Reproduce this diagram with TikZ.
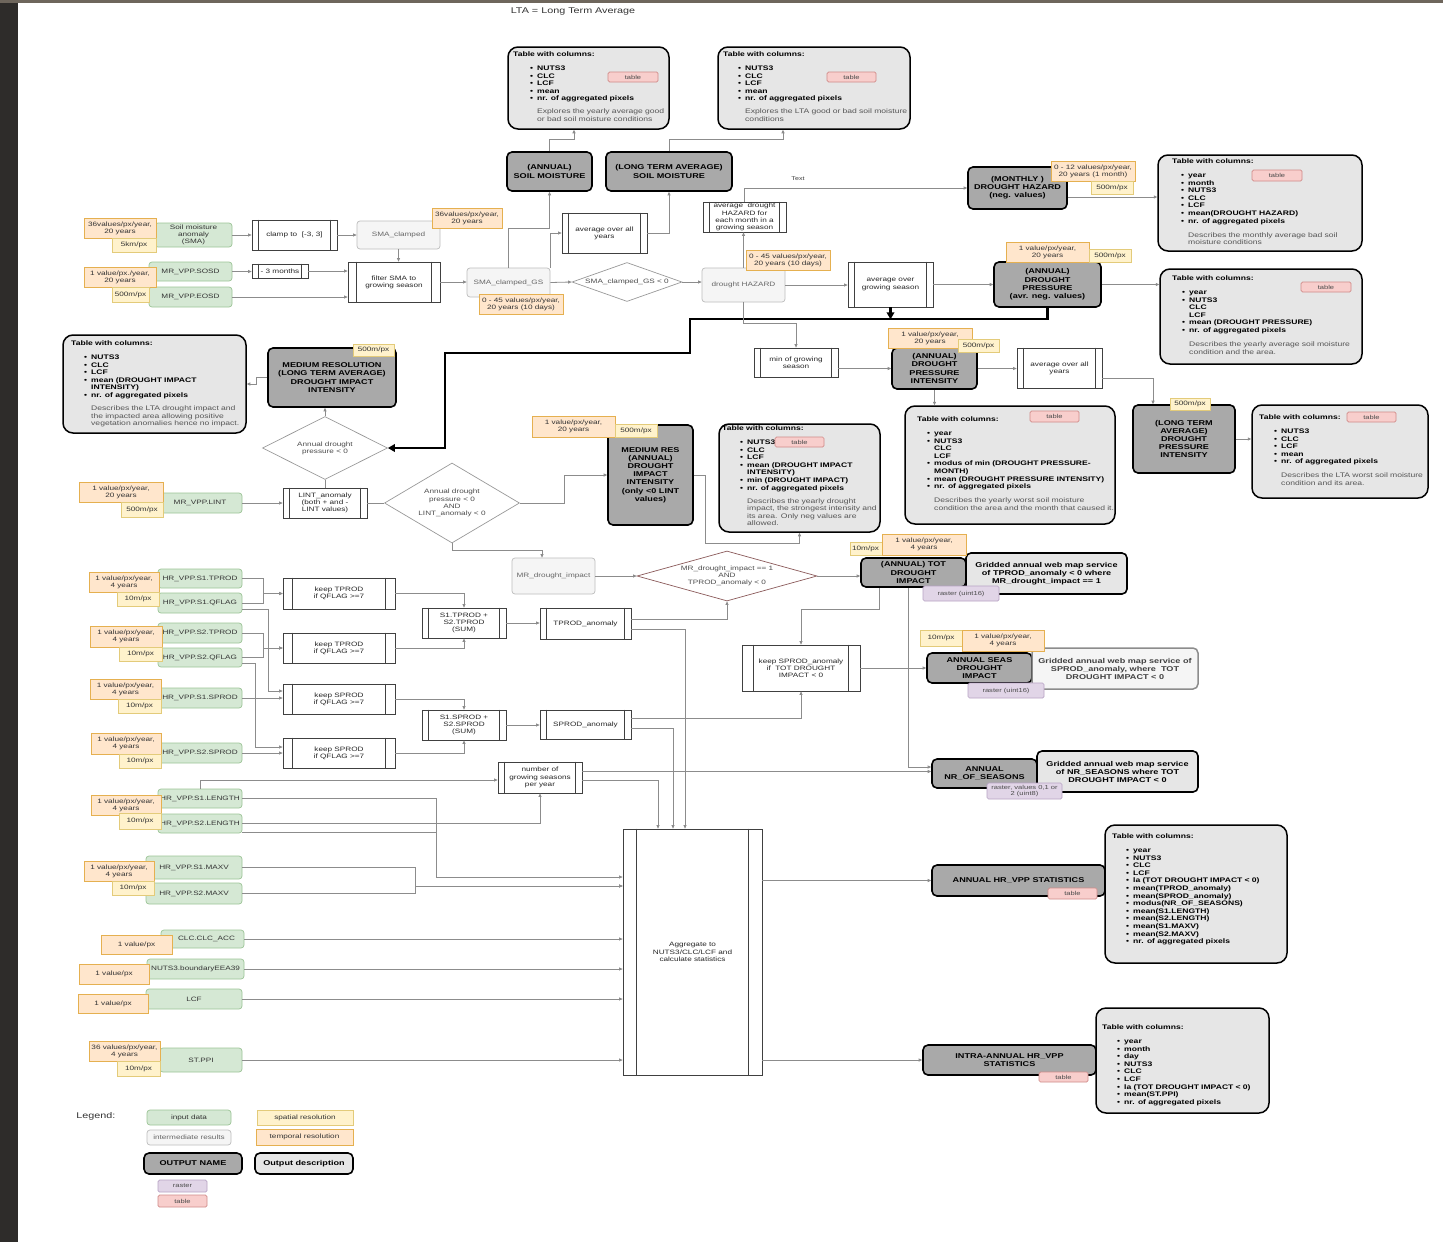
\documentclass[tikz,border=0pt]{standalone}
\usepackage{fontspec}
\setmainfont{Liberation Sans}[FakeStretch=1.3]
\usetikzlibrary{arrows.meta,shapes.geometric}
\definecolor{inF}{HTML}{D5E8D4}\definecolor{inD}{HTML}{9CC496}
\definecolor{tmF}{HTML}{FFE6CC}\definecolor{tmD}{HTML}{E5B050}
\definecolor{spF}{HTML}{FFF2CC}\definecolor{spD}{HTML}{E3CB7A}
\definecolor{raF}{HTML}{E1D5E7}\definecolor{raD}{HTML}{B7A2C4}
\definecolor{taF}{HTML}{F8CECC}\definecolor{taD}{HTML}{D08A88}
\definecolor{outF}{HTML}{A9A9A9}
\definecolor{tblF}{HTML}{E6E6E6}
\definecolor{intF}{HTML}{F5F5F5}\definecolor{intD}{HTML}{BDBDBD}
\definecolor{lnC}{HTML}{8C8C8C}
\definecolor{descg}{HTML}{555555}
\definecolor{ddD}{HTML}{8B5A5A}
\definecolor{stripA}{HTML}{2E2C2A}
\definecolor{stripB}{HTML}{6E665C}
\newlength\bind
\newcommand\bi[1]{\hspace*{\bind}\makebox[7pt][l]{\textbullet}#1}
\newcommand\bc[1]{\hspace*{\bind}\hspace*{7pt}#1}
\newcommand\nd[7]{\node[#2,minimum width={#5-#3},minimum height={#6-#4}] (#1) at ({(#3+#5)/2},{(#4+#6)/2}) {#7};}
\newcommand\pr[7][7]{\nd{#2}{proc}{#3}{#4}{#5}{#6}{#7}\draw[procin] ([xshift=#1pt]#2.north west) -- ([xshift=#1pt]#2.south west) ([xshift=-#1pt]#2.north east) -- ([xshift=-#1pt]#2.south east);}
\newcommand\tb[8]{\nd{#1}{tbl}{#2}{#3}{#4}{#5}{}\node[tbltext,text width={#4-#6+15}] (#1-t) at (#6,{#7-2.5}) {\setlength\parindent{0pt}\setlength\parskip{0pt}#8};}
\tikzset{
 basebox/.style={inner sep=0.5pt, align=center, font=\fontsize{6.3}{7.2}\selectfont},
 inputbox/.style={basebox, rounded corners=3pt, fill=inF, draw=inD, line width=0.7pt, text=black!80},
 tmpbox/.style={basebox, fill=tmF, draw=tmD, line width=0.8pt, text=black!80},
 spabox/.style={basebox, fill=spF, draw=spD, line width=0.8pt, text=black!80},
 rasbox/.style={basebox, rounded corners=1.5pt, fill=raF, draw=raD, line width=0.7pt, text=black!70, font=\fontsize{5.8}{6.6}\selectfont},
 tabbox/.style={basebox, rounded corners=1.5pt, fill=taF, draw=taD, line width=0.7pt, text=black!70, font=\fontsize{5.8}{6.6}\selectfont},
 outbox/.style={basebox, rounded corners=5pt, fill=outF, draw=black, line width=1.6pt, font=\bfseries\fontsize{7}{8.2}\selectfont},
 descbox/.style={basebox, rounded corners=5pt, fill=tblF, draw=black, line width=1.6pt, font=\bfseries\fontsize{7}{8}\selectfont},
 descboxb/.style={basebox, rounded corners=5pt, fill=intF, draw=black!45, line width=1.5pt, text=black!75, font=\bfseries\fontsize{7}{8}\selectfont},
 interbox/.style={basebox, rounded corners=3pt, fill=intF, draw=intD, line width=0.7pt, text=black!60},
 procbox/.style={basebox, draw=black!75, line width=0.7pt, fill=white, text=black!85},
 proc/.style={procbox},
 procin/.style={draw=black!75, line width=0.7pt},
 diabox/.style={basebox, diamond, draw=black!40, line width=0.7pt, inner sep=0pt, fill=white, text=black!70},
 tbl/.style={rounded corners=10pt, fill=tblF, draw=black, line width=1.5pt, inner sep=0pt},
 tbltext/.style={inner sep=0pt, anchor=north west, align=left, font=\fontsize{6.6}{7.6}\selectfont},
 con/.style={draw=lnC, line width=0.8pt, -{Triangle[length=3.5pt,width=3pt]}},
 plainline/.style={draw=lnC, line width=0.8pt},
 thk/.style={draw=black, line width=2.2pt, -{Triangle[length=7pt,width=7.5pt]}},
}
\begin{document}
\begin{tikzpicture}[x=1pt,y=-1pt]
\fill[white] (0,0) rectangle (1443,1242);
\useasboundingbox (0,0) rectangle (1443,1242);
\fill[stripA] (0,0) rectangle (18,1242);
\fill[stripB] (0,0) rectangle (1443,3);
\node[font=\fontsize{8.3}{9}\selectfont, text=black!80] (title) at (573,12) {LTA = Long Term Average};
\node[font=\fontsize{5.5}{6}\selectfont, text=black!75] (txt) at (798,179) {Text};

% ---------- tables ----------
\tb{tA}{508}{47}{669}{129}{513}{54}{\setlength\bind{17pt}\bfseries Table with columns:\\[6.4pt]
\bi{NUTS3}\\ \bi{CLC}\\ \bi{LCF}\\ \bi{mean}\\ \bi{nr. of aggregated pixels}\\[5.4pt]
\mdseries\color{descg}\bc{Explores the yearly average good}\\ \bc{or bad soil moisture conditions}}
\tb{tB}{718}{47}{910}{129}{723}{54}{\setlength\bind{15pt}\bfseries Table with columns:\\[6.4pt]
\bi{NUTS3}\\ \bi{CLC}\\ \bi{LCF}\\ \bi{mean}\\ \bi{nr. of aggregated pixels}\\[5.4pt]
\mdseries\color{descg}\bc{Explores the LTA good or bad soil moisture}\\ \bc{conditions}}
\tb{tMon}{1158}{155}{1362}{251}{1172}{161}{\setlength\bind{9pt}\bfseries Table with columns:\\[6.4pt]
\bi{year}\\ \bi{month}\\ \bi{NUTS3}\\ \bi{CLC}\\ \bi{LCF}\\ \bi{mean(DROUGHT HAZARD)}\\ \bi{nr. of aggregated pixels}\\[6.4pt]
\mdseries\color{descg}\bc{Describes the monthly average bad soil}\\ \bc{moisture conditions}}
\tb{tPres}{1160}{269}{1362}{364}{1172}{278}{\setlength\bind{10pt}\bfseries Table with columns:\\[6.4pt]
\bi{year}\\ \bi{NUTS3}\\ \bc{CLC}\\ \bc{LCF}\\ \bi{mean (DROUGHT PRESSURE)}\\ \bi{nr. of aggregated pixels}\\[6.4pt]
\mdseries\color{descg}\bc{Describes the yearly average soil moisture}\\ \bc{condition and the area.}}
\tb{tLdpi}{1252}{405}{1428}{498}{1259}{417}{\setlength\bind{15pt}\bfseries Table with columns:\\[6.4pt]
\bi{NUTS3}\\ \bi{CLC}\\ \bi{LCF}\\ \bi{mean}\\ \bi{nr. of aggregated pixels}\\[6.4pt]
\mdseries\color{descg}\bc{Describes the LTA worst soil moisture}\\ \bc{condition and its area.}}
\tb{tMin}{905}{406}{1115}{524}{917}{419}{\setlength\bind{10pt}\bfseries Table with columns:\\[6.4pt]
\bi{year}\\ \bi{NUTS3}\\ \bc{CLC}\\ \bc{LCF}\\ \bi{modus of min (DROUGHT PRESSURE-}\\ \bc{MONTH)}\\ \bi{mean (DROUGHT PRESSURE INTENSITY)}\\ \bi{nr. of aggregated pixels}\\[6.4pt]
\mdseries\color{descg}\bc{Describes the yearly worst soil moisture}\\ \bc{condition the area and the month that caused it.}}
\tb{tMRa}{719}{424}{880}{532}{722}{428}{\setlength\bind{18pt}\bfseries Table with columns:\\[6.4pt]
\bi{NUTS3}\\ \bi{CLC}\\ \bi{LCF}\\ \bi{mean (DROUGHT IMPACT}\\ \bc{INTENSITY)}\\ \bi{min (DROUGHT IMPACT)}\\ \bi{nr. of aggregated pixels}\\[5.4pt]
\mdseries\color{descg}\bc{Describes the yearly drought}\\ \bc{impact, the strongest intensity and}\\ \bc{its area. Only neg values are}\\ \bc{allowed.}}
\tb{tMRl}{63}{335}{246}{433}{71}{343}{\setlength\bind{13pt}\bfseries Table with columns:\\[6.4pt]
\bi{NUTS3}\\ \bi{CLC}\\ \bi{LCF}\\ \bi{mean (DROUGHT IMPACT}\\ \bc{INTENSITY)}\\ \bi{nr. of aggregated pixels}\\[5.4pt]
\mdseries\color{descg}\bc{Describes the LTA drought impact and}\\ \bc{the impacted area allowing positive}\\ \bc{vegetation anomalies hence no impact.}}
\tb{tAnn}{1105}{825}{1287}{963}{1112}{836}{\setlength\bind{14pt}\bfseries Table with columns:\\[6.4pt]
\bi{year}\\ \bi{NUTS3}\\ \bi{CLC}\\ \bi{LCF}\\ \bi{la (TOT DROUGHT IMPACT < 0)}\\ \bi{mean(TPROD\_anomaly)}\\ \bi{mean(SPROD\_anomaly)}\\ \bi{modus(NR\_OF\_SEASONS)}\\ \bi{mean(S1.LENGTH)}\\ \bi{mean(S2.LENGTH)}\\ \bi{mean(S1.MAXV)}\\ \bi{mean(S2.MAXV)}\\ \bi{nr. of aggregated pixels}}
\tb{tInt}{1096}{1008}{1269}{1113}{1102}{1027}{\setlength\bind{15pt}\bfseries Table with columns:\\[6.4pt]
\bi{year}\\ \bi{month}\\ \bi{day}\\ \bi{NUTS3}\\ \bi{CLC}\\ \bi{LCF}\\ \bi{la (TOT DROUGHT IMPACT < 0)}\\ \bi{mean(ST.PPI)}\\ \bi{nr. of aggregated pixels}}

% ---------- outputs ----------
\nd{oSMa}{outbox}{507}{152}{592}{191}{(ANNUAL)\\SOIL MOISTURE}
\nd{oSMl}{outbox}{606}{152}{732}{191}{(LONG TERM AVERAGE)\\SOIL MOISTURE}
\nd{oMon}{outbox}{968}{167}{1067}{209}{(MONTHLY )\\DROUGHT HAZARD\\(neg. values)}
\nd{oDP}{outbox}{994}{262}{1101}{307}{(ANNUAL)\\DROUGHT\\PRESSURE\\(avr. neg. values)}
\nd{oDPI}{outbox}{892}{348}{977}{389}{(ANNUAL)\\DROUGHT\\PRESSURE\\INTENSITY}
\nd{oLdpi}{outbox}{1133}{405}{1235}{473}{(LONG TERM\\AVERAGE)\\DROUGHT\\PRESSURE\\INTENSITY}
\nd{oMRl}{outbox}{268}{348}{396}{407}{MEDIUM RESOLUTION\\(LONG TERM AVERAGE)\\DROUGHT IMPACT\\INTENSITY}
\nd{oMRa}{outbox}{608}{425}{693}{525}{MEDIUM RES\\(ANNUAL)\\DROUGHT\\IMPACT\\INTENSITY\\(only <0 LINT\\values)}
\nd{oTOT}{outbox}{861}{558}{966}{587}{(ANNUAL) TOT\\DROUGHT\\IMPACT}
\nd{oSEAS}{outbox}{927}{653}{1032}{683}{ANNUAL SEAS\\DROUGHT\\IMPACT}
\nd{oNR}{outbox}{932}{759}{1037}{788}{ANNUAL\\NR\_OF\_SEASONS}
\nd{oHRa}{outbox}{932}{865}{1105}{896}{ANNUAL HR\_VPP STATISTICS}
\nd{oHRi}{outbox}{923}{1045}{1096}{1075}{INTRA-ANNUAL HR\_VPP\\STATISTICS}
\nd{dTOT}{descbox}{966}{553}{1127}{594}{Gridded annual web map service\\of TPROD\_anomaly < 0 where\\MR\_drought\_impact == 1}
\nd{dSEAS}{descboxb}{1032}{648}{1198}{689}{Gridded annual web map service of\\SPROD\_anomaly, where~ TOT\\DROUGHT IMPACT < 0}
\nd{dNR}{descbox}{1037}{751}{1198}{792}{Gridded annual web map service\\of NR\_SEASONS where TOT\\DROUGHT IMPACT < 0}

% ---------- intermediate ----------
\nd{iSMAc}{interbox}{357}{221}{440}{249}{SMA\_clamped}
\nd{iSMAgs}{interbox}{467}{268}{550}{297}{SMA\_clamped\_GS}
\nd{iHaz}{interbox}{702}{268}{785}{302}{drought HAZARD}
\nd{iMRdi}{interbox}{512}{558}{595}{594}{MR\_drought\_impact}

% ---------- processes ----------
\pr{pClamp}{252}{220}{337}{250}{clamp to~ [-3, 3]}
\pr{pM3}{252}{264}{308}{278}{- 3 months}
\pr[9]{pFilt}{348}{262}{440}{302}{filter SMA to\\growing season}
\pr{pAvgY}{562}{213}{647}{253}{average over all\\years}
\pr{pAvgH}{703}{202}{786}{232}{average~ drought\\HAZARD for\\each month in a\\growing season}
\pr{pAvgGS}{848}{262}{933}{307}{average over\\growing season}
\pr{pMinGS}{754}{348}{838}{377}{min of growing\\season}
\pr{pAvgY2}{1017}{348}{1102}{388}{average over all\\years}
\pr{pLINT}{283}{488}{367}{518}{LINT\_anomaly\\(both + and -\\LINT values)}
\pr[10]{pK1}{283}{578}{395}{609}{keep TPROD\\if QFLAG >=7}
\pr[10]{pK2}{283}{633}{395}{663}{keep TPROD\\if QFLAG >=7}
\pr[10]{pK3}{283}{684}{395}{714}{keep SPROD\\if QFLAG >=7}
\pr[10]{pK4}{283}{738}{395}{768}{keep SPROD\\if QFLAG >=7}
\pr{pSumT}{422}{608}{506}{638}{S1.TPROD +\\S2.TPROD\\(SUM)}
\pr{pTano}{540}{608}{631}{639}{TPROD\_anomaly}
\pr{pSumS}{422}{710}{506}{740}{S1.SPROD +\\S2.SPROD\\(SUM)}
\pr{pSano}{540}{710}{631}{739}{SPROD\_anomaly}
\pr[12]{pKeepS}{742}{645}{860}{691}{keep SPROD\_anomaly\\if~ TOT DROUGHT\\IMPACT < 0}
\pr{pNum}{498}{762}{582}{793}{number of\\growing seasons\\per year}
\pr[14]{pAgg}{623}{829}{762}{1075}{Aggregate to\\NUTS3/CLC/LCF and\\calculate statistics}

% ---------- diamonds ----------
\node[diabox, shape aspect=2.8, minimum width=110pt, minimum height=39pt] (dA) at (627,282) {SMA\_clamped\_GS < 0};
\node[diabox, shape aspect=2, minimum width=125pt, minimum height=63pt] (dB) at (325,448) {Annual drought\\pressure < 0};
\node[diabox, shape aspect=1.7, minimum width=135pt, minimum height=80pt] (dC) at (452,503) {Annual drought\\pressure < 0\\AND\\LINT\_anomaly < 0};
\node[diabox, draw=ddD, shape aspect=3.6, minimum width=180pt, minimum height=50pt] (dD) at (727,576) {MR\_drought\_impact == 1\\AND\\TPROD\_anomaly < 0};

% ---------- inputs ----------
\nd{gSMA}{inputbox}{155}{223}{232}{247}{Soil moisture\\anomaly\\(SMA)}
\nd{gSOSD}{inputbox}{149}{262}{232}{281}{MR\_VPP.SOSD}
\nd{gEOSD}{inputbox}{149}{287}{232}{307}{MR\_VPP.EOSD}
\nd{gLINT}{inputbox}{158}{493}{242}{513}{MR\_VPP.LINT}
\nd{gS1T}{inputbox}{158}{569}{242}{588}{HR\_VPP.S1.TPROD}
\nd{gS1Q}{inputbox}{158}{593}{242}{613}{HR\_VPP.S1.QFLAG}
\nd{gS2T}{inputbox}{158}{623}{242}{643}{HR\_VPP.S2.TPROD}
\nd{gS2Q}{inputbox}{158}{648}{242}{667}{HR\_VPP.S2.QFLAG}
\nd{gS1S}{inputbox}{158}{688}{242}{708}{HR\_VPP.S1.SPROD}
\nd{gS2S}{inputbox}{158}{743}{242}{763}{HR\_VPP.S2.SPROD}
\nd{gS1L}{inputbox}{158}{789}{242}{808}{HR\_VPP.S1.LENGTH}
\nd{gS2L}{inputbox}{158}{814}{242}{833}{HR\_VPP.S2.LENGTH}
\nd{gS1M}{inputbox}{146}{856}{242}{879}{HR\_VPP.S1.MAXV}
\nd{gS2M}{inputbox}{146}{883}{242}{904}{HR\_VPP.S2.MAXV}
\nd{gCLC}{inputbox}{161}{930}{244}{948}{\hspace*{8pt}CLC.CLC\_ACC}
\nd{gNUTS}{inputbox}{147}{959}{244}{979}{NUTS3.boundaryEEA39}
\nd{gLCF}{inputbox}{146}{989}{242}{1009}{LCF}
\nd{gPPI}{inputbox}{160}{1048}{242}{1072}{ST.PPI}

% ---------- connectors ----------
\draw[con] (gSMA.east) -- (gSMA.east -| pClamp.west);
\draw[con] (pClamp.east) -- (pClamp.east -| iSMAc.west);
\draw[con] (iSMAc.south) -- (iSMAc.south |- pFilt.north);
\draw[con] (gSOSD.east) -- (gSOSD.east -| pM3.west);
\draw[con] (pM3.east) -- (pM3.east -| pFilt.west);
\draw[con] (gEOSD.east) -- (gEOSD.east -| pFilt.west);
\draw[con] (pFilt.east) -- (pFilt.east -| iSMAgs.west);
\draw[con] (iSMAgs.east) -- (dA.west);
\draw[con] (dA.east) -- (dA.east -| iHaz.west);
\draw[con] (iSMAgs.north) -- ++(0,-39) -| (oSMa.south);
\draw[con] (iSMAgs.north east) |- (pAvgY.west);
\draw[con] (pAvgY.east) -| (oSMl.south);
\draw[con] (oSMa.north) -- ++(0,-12) -| ([xshift=-14.5pt]tA.south);
\draw[con] (oSMl.north) -- ++(0,-12) -| ([xshift=-31pt]tB.south);
\draw[con] (iHaz.north) -- (iHaz.north |- pAvgH.south);
\draw[con] (pAvgH.north) |- (oMon.west);
\coordinate (m1) at ([yshift=-9pt]oMon.east);
\draw[con] (m1) -- (m1 -| tMon.west);
\draw[con] (iHaz.east) -- (iHaz.east -| pAvgGS.west);
\draw[con] (pAvgGS.east) -- (pAvgGS.east -| oDP.west);
\draw[con] (oDP.east) -- (oDP.east -| tPres.west);
\draw[thk] (oDP.south) |- (690,319) |- (445,353) |- (dB.east);
\draw[thk] (pAvgGS.south) -- ++(0,12);
\draw[con] (iHaz.south) -- ++(0,21) -| (pMinGS.north);
\draw[con] (pMinGS.east |- oDPI.west) -- (oDPI.west);
\draw[con] (oDPI.east) -- (oDPI.east -| pAvgY2.west);
\draw[con] ([yshift=-10pt]pAvgY2.east) -| ([xshift=-31pt]oLdpi.north);
\draw[con] (oLdpi.east) -- (oLdpi.east -| tLdpi.west);
\draw[con] (oDPI.south) -- (oDPI.south |- tMin.north);
\draw[con] (oMRl.west) -- ++(-11,0) |- (tMRl.east);
\draw[con] (dB.north) -- (dB.north |- oMRl.south);
\draw[plainline] (dB.south) -- (pLINT.north);
\draw[con] (gLINT.east) -- (gLINT.east -| pLINT.west);
\draw[plainline] (pLINT.east) -- (dC.west);
\draw[con] (dC.east) -- ++(45,0) |- (oMRa.west);
\draw[con] (oMRa.east) -- ++(12,0) -- ++(0,68) -| (tMRa.south);
\draw[con] (dC.south) -- ++(0,7) -| ([xshift=-11.5pt]iMRdi.north);
\draw[con] (iMRdi.east) -- (iMRdi.east -| dD.west);
\draw[con] (dD.east) -- (dD.east -| oTOT.west);
\draw[con] ([yshift=4.5pt]pTano.east) -| (dD.south);
\draw[con] ([yshift=-5.5pt]pTano.east) -| ([xshift=-7.5pt]pAgg.north);
\draw[con] ([yshift=6.5pt]pSano.east) -| (pKeepS.south);
\draw[con] ([yshift=-3.5pt]pSano.east) -| ([xshift=-19.5pt]pAgg.north);
\coordinate (n1) at ([yshift=6pt]pNum.east);
\draw[con] (n1) -- (n1 -| oNR.west);
\draw[con] ([yshift=-2.5pt]pNum.east) -| ([xshift=-34.5pt]pAgg.north);
\draw[con] ([xshift=-5.5pt]oTOT.south) |- ([yshift=6.5pt]oNR.west);
\draw[con] ([xshift=-34.5pt]oTOT.south) -- ++(0,22) -| (pKeepS.north);
\draw[con] (pKeepS.east) -- (pKeepS.east -| oSEAS.west);
\draw[con] (gS1T.east) -- ++(21,0) |- (pK1.west);
\draw[con] (gS1Q.east) -- ++(21,0) |- (pK1.west);
\draw[con] (gS2T.east) -- ++(21,0) |- (pK2.west);
\draw[con] (gS2Q.east) -- ++(21,0) |- (pK2.west);
\draw[con] ([yshift=-6pt]gS1Q.east) -- ++(26,0) |- ([yshift=8pt]pK3.west);
\draw[con] (gS1S.east) -- (gS1S.east -| pK3.west);
\draw[con] ([yshift=-6pt]gS2Q.east) -- ++(13,0) |- ([yshift=6pt]pK4.west);
\draw[con] (gS2S.east) -- (gS2S.east -| pK4.west);
\draw[con] (pK1.east) -| (pSumT.north);
\draw[con] (pK2.east) -| (pSumT.south);
\draw[con] (pSumT.east) -- (pSumT.east -| pTano.west);
\draw[con] (pK3.east) -| (pSumS.north);
\draw[con] (pK4.east) -| (pSumS.south);
\draw[con] (pSumS.east) -- (pSumS.east -| pSano.west);
\draw[con] (gS1L.north) |- ([yshift=-2.5pt]pNum.west);
\draw[con] (gS1L.east) -- ++(194,0) |- ([yshift=75pt]pAgg.west);
\draw[con] (gS2L.east) -| (pNum.south);
\draw[plainline] ([yshift=-8.5pt]gS2L.east) -- ++(194,0);
\draw[con] (gS1M.east) -- ++(173,0) |- ([yshift=66pt]pAgg.west);
\draw[con] (gS2M.east) -- ++(173,0) |- ([yshift=66pt]pAgg.west);
\draw[con] (gCLC.east) -- (gCLC.east -| pAgg.west);
\draw[con] (gNUTS.east) -- (gNUTS.east -| pAgg.west);
\draw[con] (gLCF.east) -- (gLCF.east -| pAgg.west);
\draw[con] (gPPI.east) -- (gPPI.east -| pAgg.west);
\draw[con] (oHRa.west -| pAgg.east) -- (oHRa.west);
\draw[con] (oHRi.west -| pAgg.east) -- (oHRi.west);

% ---------- tags ----------
\nd{tT1}{tmpbox}{84}{218}{156}{238}{36values/px/year,\\20 years}
\nd{tS1}{spabox}{112}{238}{156}{252}{5km/px}
\nd{tT2}{tmpbox}{84}{267}{156}{287}{1 value/px./year,\\20 years}
\nd{tS2}{spabox}{112}{287}{149}{302}{500m/px}
\nd{tT3}{tmpbox}{432}{208}{502}{228}{36values/px/year,\\20 years}
\nd{tT4}{tmpbox}{479}{294}{563}{314}{0 - 45 values/px/year,\\20 years (10 days)}
\nd{tT5}{tmpbox}{746}{250}{830}{270}{0 - 45 values/px/year,\\20 years (10 days)}
\nd{tT6}{tmpbox}{1051}{161}{1135}{181}{0 - 12 values/px/year,\\20 years (1 month)}
\nd{tS6}{spabox}{1091}{181}{1133}{194}{500m/px}
\nd{tT7}{tmpbox}{1006}{242}{1089}{262}{1 value/px/year,\\20 years}
\nd{tS7}{spabox}{1089}{249}{1131}{262}{500m/px}
\nd{tT8}{tmpbox}{888}{328}{972}{348}{1 value/px/year,\\20 years}
\nd{tS8}{spabox}{958}{339}{999}{352}{500m/px}
\nd{tS9}{spabox}{1170}{398}{1210}{410}{500m/px}
\nd{tS10}{spabox}{353}{344}{394}{356}{500m/px}
\nd{tT11}{tmpbox}{532}{416}{615}{437}{1 value/px/year,\\20 years}
\nd{tS11}{spabox}{615}{424}{657}{437}{500m/px}
\nd{tT12}{tmpbox}{79}{482}{163}{502}{1 value/px/year,\\20 years}
\nd{tS12}{spabox}{121}{502}{163}{517}{500m/px}
\nd{tS13}{spabox}{850}{542}{892}{555}{10m/px\hspace*{11pt}}
\nd{tT13}{tmpbox}{882}{534}{966}{555}{1 value/px/year,\\4 years}
\nd{tS14}{spabox}{920}{630}{962}{646}{10m/px}
\nd{tT14}{tmpbox}{962}{630}{1044}{651}{1 value/px/year,\\4 years}
\nd{tT15}{tmpbox}{89}{572}{159}{592}{1 value/px/year,\\4 years}
\nd{tS15}{spabox}{117}{592}{159}{606}{10m/px}
\nd{tT16}{tmpbox}{90}{626}{162}{647}{1 value/px/year,\\4 years}
\nd{tS16}{spabox}{119}{647}{162}{661}{10m/px}
\nd{tT17}{tmpbox}{90}{679}{161}{699}{1 value/px/year,\\4 years}
\nd{tS17}{spabox}{118}{699}{161}{713}{10m/px}
\nd{tT18}{tmpbox}{91}{733}{161}{754}{1 value/px/year,\\4 years}
\nd{tS18}{spabox}{119}{754}{161}{768}{10m/px}
\nd{tT19}{tmpbox}{91}{795}{161}{815}{1 value/px/year,\\4 years}
\nd{tS19}{spabox}{119}{813}{161}{829}{10m/px}
\nd{tT20}{tmpbox}{84}{861}{154}{881}{1 value/px/year,\\4 years}
\nd{tS20}{spabox}{112}{881}{154}{895}{10m/px}
\nd{tT21}{tmpbox}{101}{935}{172}{954}{1 value/px}
\nd{tT22}{tmpbox}{79}{964}{149}{984}{1 value/px}
\nd{tT23}{tmpbox}{78}{994}{148}{1013}{1 value/px}
\nd{tT24}{tmpbox}{89}{1041}{160}{1061}{36 values/px/year,\\4 years}
\nd{tS24}{spabox}{117}{1061}{160}{1076}{10m/px}
\nd{rTOT}{rasbox}{923}{586}{999}{601}{raster (uint16)}
\nd{rSEAS}{rasbox}{968}{683}{1044}{698}{raster (uint16)}
\nd{rNR}{rasbox}{987}{783}{1062}{799}{raster, values 0,1 or\\2 (uint8)}
\nd{kA}{tabbox}{608}{72}{658}{82}{table}
\nd{kB}{tabbox}{827}{72}{876}{82}{table}
\nd{kMon}{tabbox}{1252}{170}{1302}{181}{table}
\nd{kPres}{tabbox}{1301}{282}{1351}{292}{table}
\nd{kLdpi}{tabbox}{1347}{412}{1396}{422}{table}
\nd{kMin}{tabbox}{1030}{411}{1079}{422}{table}
\nd{kMRa}{tabbox}{775}{437}{824}{447}{table}
\nd{kHRa}{tabbox}{1048}{888}{1097}{899}{table}
\nd{kHRi}{tabbox}{1039}{1072}{1088}{1082}{table}

% ---------- legend ----------
\node[font=\fontsize{8.3}{9}\selectfont, text=black!80] (lg) at (96,1116) {Legend:};
\nd{lgIn}{inputbox}{147}{1110}{231}{1125}{input data}
\nd{lgInt}{interbox}{147}{1130}{231}{1145}{intermediate results}
\nd{lgSp}{spabox}{257}{1110}{353}{1125}{spatial resolution}
\nd{lgTm}{tmpbox}{256}{1129}{353}{1145}{temporal resolution}
\nd{lgOut}{outbox}{144}{1153}{242}{1174}{OUTPUT NAME}
\nd{lgDesc}{descbox}{255}{1153}{353}{1174}{Output description}
\nd{lgRas}{rasbox}{158}{1180}{207}{1192}{raster}
\nd{lgTab}{tabbox}{158}{1195}{207}{1207}{table}
\end{tikzpicture}
\end{document}
